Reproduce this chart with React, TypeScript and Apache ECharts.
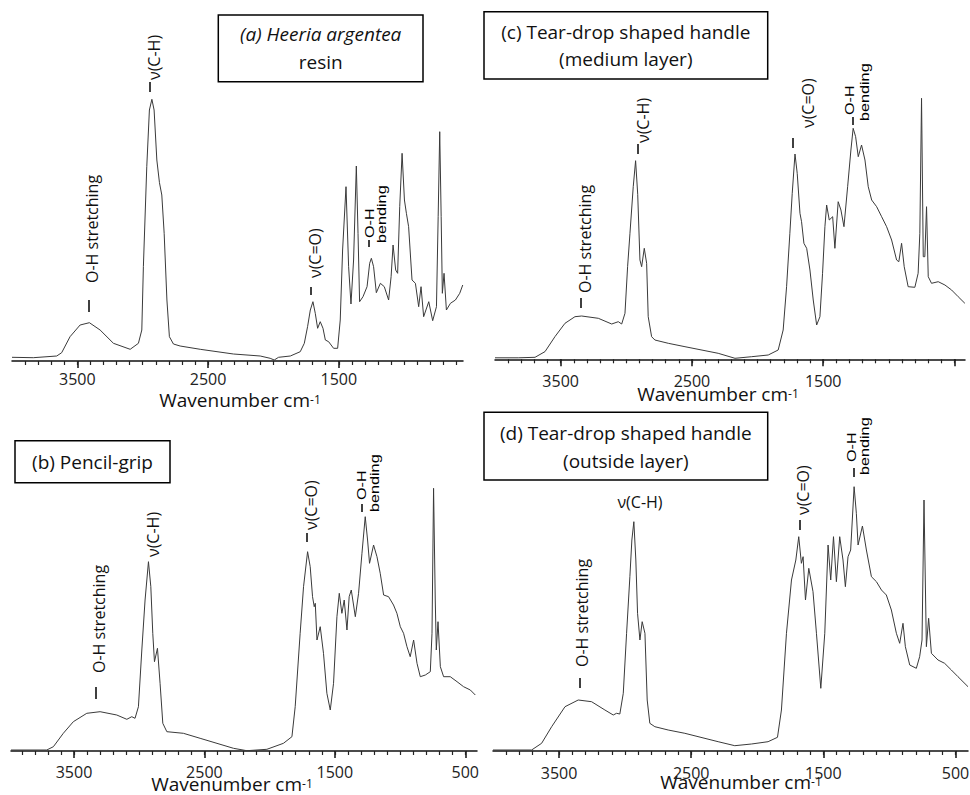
import React, { useEffect, useRef } from "react";
import * as echarts from "echarts";

// ---------- data (wavenumber cm-1 / relative absorbance) ----------
const waveA = [4000,3837,3658,3620,3556,3479,3408,3326,3224,3096,3033,3007,2995,2969,2949,2930,2913,2892,2872,2854,2836,2815,2796,2765,2714,2560,2306,2101,2025,1994,1961,1871,1795,1764,1739,1718,1698,1680,1662,1642,1621,1603,1578,1540,1509,1489,1471,1445,1425,1407,1387,1366,1353,1341,1315,1284,1264,1251,1234,1213,1182,1152,1119,1100,1085,1065,1050,1034,1016,998,983,966,940,914,889,871,851,812,782,753,740,728,717,708,695,677,646,608,575,552];
const absA = [3.7,3.3,5,8.3,24.3,36,38.3,31,17.7,11.7,17.7,31,94.3,194.3,251,261.7,251,201,178.3,166,127.7,61,24.3,17,15,11.7,7,5,2.7,1,3.7,5,9.3,17.7,34.3,51,59.3,47.7,32.7,39.3,32.7,21,19.3,12.7,12.7,41,111,174.3,94.3,57,101,195,127.7,59.3,64.3,74.3,97.7,102.7,94.3,68.3,77.7,74.3,61,84.3,116,91,87.7,154.3,207.7,161,147.7,134.3,81,77.7,54.3,74.3,44.3,59.3,40.3,54.3,144.3,229.3,144.3,67.7,87.7,51,57.7,61,67.7,76];

const waveB = [3983,3709,3658,3582,3505,3402,3300,3172,3095,3057,3032,3006,2980,2955,2929,2911,2896,2883,2860,2840,2819,2788,2661,2533,2277,2175,2021,1894,1829,1804,1766,1740,1709,1689,1671,1658,1650,1637,1612,1587,1561,1535,1510,1484,1466,1446,1428,1407,1390,1374,1343,1318,1292,1267,1249,1234,1203,1177,1152,1126,1088,1050,1024,998,973,947,922,896,870,845,806,768,755,743,730,722,709,691,666,615,563,513,461,423];
const absB = [1,1,4.3,17.7,29.3,37.7,39.3,36,31.7,34.3,32.7,44.3,101,151,189.3,164.3,117.7,89.3,102.7,67.7,27.7,19.3,17.7,12.7,2.7,0.3,1.7,7.7,14.3,44.3,117.7,164.3,199.3,184.3,154.3,144.3,147.7,111,124.3,97.7,57.7,41,67.7,134.3,157.7,137.7,151,121,154.3,161,134.3,157.7,197.7,234.3,211,187.7,206,194.3,177.7,156,154.3,146,137.7,124.3,117.7,104.3,94.3,111,87.7,74.3,76,79.3,117.7,262.7,151,101,129.3,84.3,74.3,74.3,69.3,64.3,61,56];

const waveC = [4000,3823,3695,3619,3543,3467,3391,3340,3213,3111,3061,3035,3010,2990,2972,2947,2929,2913,2896,2883,2863,2845,2833,2807,2782,2680,2553,2300,2172,2045,1919,1843,1805,1779,1754,1736,1715,1698,1677,1665,1647,1626,1601,1576,1550,1525,1505,1487,1474,1454,1428,1411,1386,1365,1342,1314,1289,1272,1253,1233,1208,1182,1157,1131,1093,1055,1017,979,941,924,903,883,853,802,777,764,751,738,726,713,700,675,624,573,522,472,421];
const absC = [1.5,1.5,2,7.7,22.7,36,42.6,43.3,41,35.3,37.6,35.3,46,92.6,126,172.6,198.6,165,99.3,92.6,111,96,42.6,22.6,19.3,16,12.6,6,1,2.6,4.3,9.3,29.3,72.6,126,166,205.3,186,146,137.6,116,111,89.3,59.3,34.3,42.6,86,132.6,154.3,139.3,142.6,111,157.6,149.3,132.6,172.6,209.3,231,222.6,202.6,214.3,199.3,172.6,159.3,152.6,142.6,132.6,119.3,99.3,97.6,116,92.6,72.6,72,86,126,261,102.6,102.6,152.6,82.6,76,77.6,74.3,69.3,62.6,56];

const waveD = [4000,3708,3632,3556,3455,3355,3254,3153,3090,3065,3040,3014,2989,2964,2949,2934,2919,2906,2888,2871,2850,2833,2813,2775,2674,2548,2296,2170,2044,1918,1847,1817,1779,1741,1708,1686,1666,1653,1635,1610,1578,1552,1519,1489,1464,1444,1423,1401,1376,1351,1333,1313,1293,1267,1250,1237,1204,1174,1136,1098,1060,1023,985,947,922,897,879,846,796,771,753,738,720,703,682,632,582,531,481,405];
const absD = [1,1,7.7,24.3,44.3,51,49.3,41,36,37.7,37,57.7,117.7,174.3,211,229.3,191,137.7,111,129.3,117.7,51,27.7,24.3,21,17.7,9.3,5.3,7,9.3,13.7,41,117.7,171,191,214.3,187.7,194.3,151,182.7,159.3,117.7,62.7,117.7,206,171,214.3,169.3,214.3,191,164.3,194.3,201,264.3,237.7,206,225,201,174.3,169.3,161,156,141,117.7,107.7,127.7,104.3,86,82.7,94.3,111,251,104.3,132.7,97.7,91,87.7,81,74.3,64.3];

const majorTicks = [3500, 2500, 1500, 500];
const labelsA = [3500, 2500, 1500];
const labelsB = [3500, 2500, 1500, 500];
const labelsC = [3500, 2500, 1500];
const labelsD = [3500, 2500, 1500, 500];

const titleA = ["(a) Heeria argentea", "resin"];
const titleB = ["(b) Pencil-grip"];
const titleC = ["(c) Tear-drop shaped handle", "(medium layer)"];
const titleD = ["(d) Tear-drop shaped handle", "(outside layer)"];

const FONT = "'Open Sans', sans-serif";
const NARROW = "'Liberation Sans', Arial, sans-serif";

const zip = (w: number[], a: number[]) => w.map((x, i) => [x, a[i]]);

type Panel = {
  wave: number[]; abs: number[]; labels: number[];
  left: number; top: number; width: number; min: number; max: number; margin: number;
};

const panels: Panel[] = [
  { wave: waveA, abs: absA, labels: labelsA, left: 12, top: 61, width: 451, min: 550, max: 4000, margin: 11.5 },
  { wave: waveB, abs: absB, labels: labelsB, left: 11, top: 451, width: 466, min: 410, max: 3983, margin: 14.5 },
  { wave: waveC, abs: absC, labels: labelsC, left: 495, top: 59.3, width: 470, min: 420, max: 4000, margin: 15.5 },
  { wave: waveD, abs: absD, labels: labelsD, left: 493, top: 451, width: 475, min: 405, max: 4000, margin: 15 },
];
const PLOT_H = 300;

const vtext = (text: string, x: number, y: number) => ({
  type: "text", x, y, rotation: Math.PI / 2, silent: true,
  style: { text, fontSize: 16, fontFamily: FONT, fill: "#111", align: "left", verticalAlign: "middle", textAlign: "left", textVerticalAlign: "middle" },
});
const vsmall = (text: string, x: number, y: number) => ({
  type: "text", x, y, rotation: Math.PI / 2, scaleX: 1.35, silent: true,
  style: { text, fontSize: 12, fontFamily: NARROW, fill: "#000", align: "left", verticalAlign: "middle", textAlign: "left", textVerticalAlign: "middle" },
});
const htext = (text: string, x: number, y: number, size = 19, italic = false) => ({
  type: "text", x, y, silent: true,
  style: { text, fontSize: size, fontStyle: italic ? "italic" : "normal", fontFamily: FONT, fill: "#111", align: "center", verticalAlign: "middle", textAlign: "center", textVerticalAlign: "middle" },
});
const dash = (x: number, y1: number, y2: number) => ({
  type: "line", silent: true, shape: { x1: x, y1, x2: x, y2 }, style: { stroke: "#000", lineWidth: 1.5 },
});
const box = (x: number, y: number, w: number, h: number) => ({
  type: "rect", silent: true, shape: { x, y, width: w, height: h }, style: { fill: "#fff", stroke: "#000", lineWidth: 1.5 },
});
const axisTitle = (x: number, y: number) => ({
  type: "text", x, y, silent: true,
  style: {
    text: "{a|Wavenumber cm}{s|-1}", align: "center", verticalAlign: "middle", textAlign: "center", textVerticalAlign: "middle",
    rich: {
      a: { fontSize: 19, fontFamily: FONT, fill: "#111", color: "#111", lineHeight: 14, verticalAlign: "middle" },
      s: { fontSize: 12, fontFamily: FONT, fill: "#111", color: "#111", lineHeight: 8, verticalAlign: "top" },
    },
  },
});

export default function App() {
  const ref = useRef<HTMLDivElement>(null);
  useEffect(() => {
    if (!ref.current) return;
    const chart = echarts.init(ref.current, undefined, { renderer: "svg" });

    const grids: any[] = [];
    const xAxes: any[] = [];
    const yAxes: any[] = [];
    const series: any[] = [];

    const addGrid = (left: number, top: number, width: number) => {
      grids.push({ left, top, width, height: PLOT_H, containLabel: false, outerBoundsMode: "none" });
      const gi = grids.length - 1;
      yAxes.push({ type: "value", gridIndex: gi, min: 0, max: PLOT_H, show: false });
      return gi;
    };

    panels.forEach((p) => {
      const scale = p.width / (p.max - p.min);
      const xAt = (w: number) => p.left + (p.max - w) * scale;

      // data axis: axis line + tick labels
      const gi = addGrid(p.left, p.top, p.width);
      xAxes.push({
        type: "value", gridIndex: gi, position: "bottom", min: p.min, max: p.max, inverse: true,
        axisLine: { show: true, onZero: false, lineStyle: { color: "#111", width: 1.5 } },
        axisTick: { show: false },
        axisLabel: { show: true, customValues: p.labels, margin: p.margin, fontSize: 16, lineHeight: 13, fontFamily: FONT, color: "#222", formatter: (v: number) => String(v) },
        splitLine: { show: false },
      });
      series.push({
        type: "line", xAxisIndex: xAxes.length - 1, yAxisIndex: gi, data: zip(p.wave, p.abs),
        showSymbol: false, symbol: "none", silent: true,
        lineStyle: { color: "#3a3a3a", width: 1 },
      });

      // major ticks every 1000 cm-1 (counted from the lowest major value)
      const maj = majorTicks.filter((v) => v >= p.min && v <= p.max);
      const tMin = Math.min(...maj), tMax = Math.max(...maj);
      const gMaj = addGrid(xAt(tMax), p.top, (tMax - tMin) * scale);
      xAxes.push({
        type: "value", gridIndex: gMaj, position: "bottom", min: tMin, max: tMax, interval: 1000, inverse: true,
        axisLine: { show: false, onZero: false },
        axisTick: { show: true, length: 7, lineStyle: { color: "#111", width: 1.5 } },
        axisLabel: { show: false }, splitLine: { show: false },
      });

      // minor ticks every 100 cm-1
      const mMin = Math.ceil(p.min / 100) * 100, mMax = Math.min(3900, Math.floor(p.max / 100) * 100);
      const gMin = addGrid(xAt(mMax), p.top, (mMax - mMin) * scale);
      xAxes.push({
        type: "value", gridIndex: gMin, position: "bottom", min: mMin, max: mMax, interval: 100, inverse: true,
        axisLine: { show: false, onZero: false },
        axisTick: { show: true, length: 4, lineStyle: { color: "#222", width: 1.2 } },
        axisLabel: { show: false }, splitLine: { show: false },
      });
    });

    const graphics: any[] = [
      box(218.3, 15, 204.7, 66.7), htext(titleA[0], 320.7, 34, 19, true), htext(titleA[1], 320.7, 62),
      box(15, 440.7, 155, 42), htext(titleB[0], 92.5, 462),
      box(484, 11.7, 283.7, 67.3), htext(titleC[0], 625.8, 32), htext(titleC[1], 625.8, 59),
      box(484, 412.3, 283.7, 67.7), htext(titleD[0], 625.8, 433), htext(titleD[1], 625.8, 461),
      axisTitle(240, 400), axisTitle(718, 394), axisTitle(232, 784), axisTitle(741, 782),
      // (a)
      vtext("O-H stretching", 92, 283), dash(89, 300, 312),
      vtext("ν(C-H)", 154, 80), dash(150, 82, 92),
      vtext("ν(C=O)", 315, 278), dash(311, 287, 295),
      vsmall("O-H", 370, 238), vsmall("bending", 382, 243), dash(369, 240, 247),
      // (c)
      vtext("O-H stretching", 585, 293), dash(581, 298, 308),
      vtext("ν(C-H)", 643, 143), dash(638, 144, 154),
      vtext("ν(C=O)", 808, 128), dash(793, 138, 148),
      vsmall("O-H", 850, 115), vsmall("bending", 865, 121), dash(853, 117, 125),
      // (b)
      vtext("O-H stretching", 99, 673), dash(96, 687, 699),
      vtext("ν(C-H)", 153, 557),
      vtext("ν(C=O)", 311, 530), dash(307, 533, 542),
      vsmall("O-H", 362, 500), vsmall("bending", 375, 512), dash(362, 504, 512),
      // (d)
      vtext("O-H stretching", 582, 667), dash(580, 678, 688),
      htext("ν(C-H)", 640, 502, 16),
      vtext("ν(C=O)", 803, 515), dash(800, 520, 530),
      vsmall("O-H", 852, 462), vsmall("bending", 865, 475), dash(854, 468, 477),
    ];

    chart.setOption({
      animation: false,
      backgroundColor: "#fff",
      grid: grids,
      xAxis: xAxes,
      yAxis: yAxes,
      series,
      graphic: graphics,
    } as any);
    return () => chart.dispose();
  }, []);
  return <div ref={ref} style={{ position: "absolute", left: 0, top: 0, width: 970, height: 795 }} />;
}
